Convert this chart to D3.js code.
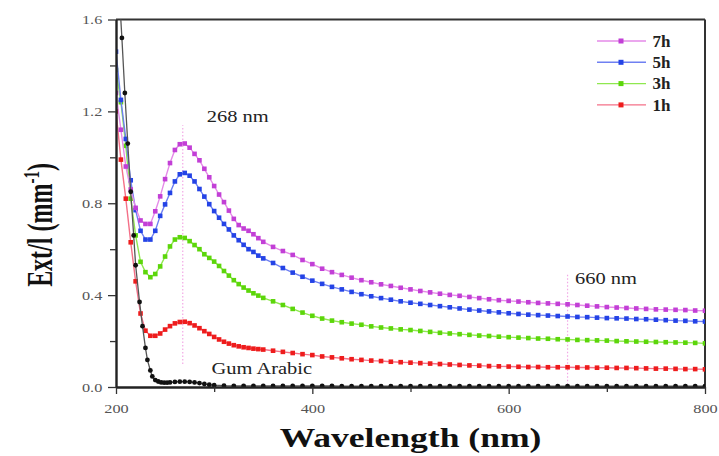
<!DOCTYPE html>
<html>
<head>
<meta charset="utf-8">
<script src="https://cdn.jsdelivr.net/npm/d3@7/dist/d3.min.js"></script>
<style>
  body { margin: 0; background: #fff; }
  text { font-family: "Liberation Serif", "Times New Roman", serif; }
</style>
</head>
<body>
<script>
// UV-vis extinction spectra
var width = 719, height = 456;

var wavelength = [200,205,210,215,220,225,230,235,240,245,250,255,260,265,270,275,280,285,290,295,300,
  305,310,315,320,325,330,335,340,345,350,
  360,370,380,390,400,410,420,430,440,450,460,470,480,490,500,510,520,530,540,550,
  560,570,580,590,600,610,620,630,640,650,660,670,680,690,700,710,720,730,740,750,
  760,770,780,790,800];

var ext7h = [1.28,1.12,0.96,0.86,0.78,0.725,0.71,0.71,0.765,0.83,0.905,0.975,1.032,1.057,1.06,1.042,1.015,0.987,0.95,0.913,0.875,
  0.838,0.805,0.768,0.732,0.705,0.69,0.68,0.665,0.648,0.632,
  0.61,0.592,0.575,0.553,0.535,0.515,0.5,0.488,0.476,0.465,0.456,0.447,0.44,0.432,0.425,0.418,0.412,0.406,0.401,0.397,
  0.392,0.387,0.382,0.378,0.375,0.372,0.369,0.366,0.364,0.362,0.36,0.357,0.354,0.351,0.348,0.346,0.344,0.342,0.34,0.338,
  0.337,0.336,0.335,0.333,0.332];

var ext5h = [1.46,1.25,1.08,0.9,0.77,0.68,0.642,0.642,0.68,0.745,0.795,0.845,0.895,0.926,0.932,0.92,0.895,0.862,0.829,0.796,0.766,
  0.737,0.71,0.686,0.66,0.639,0.619,0.6,0.588,0.572,0.56,
  0.54,0.518,0.498,0.48,0.463,0.449,0.436,0.425,0.414,0.404,0.395,0.387,0.38,0.373,0.367,0.362,0.357,0.352,0.347,0.342,
  0.337,0.333,0.329,0.325,0.321,0.318,0.315,0.313,0.311,0.309,0.307,0.305,0.304,0.302,0.3,0.299,0.298,0.296,0.295,0.293,
  0.291,0.289,0.288,0.286,0.285];

var ext3h = [1.38,1.24,1.05,0.82,0.66,0.545,0.5,0.478,0.492,0.525,0.568,0.612,0.642,0.652,0.649,0.635,0.618,0.6,0.578,0.562,0.546,
  0.527,0.505,0.485,0.465,0.448,0.433,0.42,0.408,0.398,0.388,
  0.373,0.357,0.34,0.324,0.31,0.298,0.289,0.282,0.276,0.271,0.264,0.259,0.255,0.251,0.248,0.244,0.24,0.236,0.233,0.23,
  0.227,0.224,0.222,0.219,0.217,0.215,0.213,0.211,0.21,0.208,0.207,0.205,0.204,0.203,0.202,0.2,0.199,0.198,0.197,0.196,
  0.195,0.194,0.193,0.192,0.19];

var ext1h = [1.2,0.99,0.82,0.63,0.46,0.32,0.245,0.223,0.223,0.233,0.25,0.265,0.277,0.283,0.284,0.278,0.268,0.256,0.243,0.231,0.218,
  0.207,0.197,0.189,0.182,0.177,0.173,0.17,0.167,0.165,0.163,
  0.158,0.153,0.148,0.143,0.139,0.133,0.129,0.125,0.121,0.118,0.115,0.113,0.11,0.108,0.106,0.104,0.102,0.1,0.098,0.096,
  0.094,0.093,0.091,0.09,0.089,0.088,0.087,0.087,0.086,0.086,0.086,0.085,0.085,0.084,0.084,0.083,0.083,0.082,0.081,0.08,
  0.08,0.079,0.078,0.078,0.077];

var gumWl = [203,206,209,212,215,218,220,224,227,230,232,235,237,240,243,246,249,252,255,260,265,270,275,280,285,290,295,300,
  310,320,330,340,350,360,370,380,390,400,410,420,430,440,450,460,470,480,490,500,510,520,530,540,550,
  560,570,580,590,600,610,620,630,640,650,660,670,680,690,700,710,720,730,740,750,760,770,780,790,800];
var gumArabic = [1.74,1.52,1.28,1.06,0.85,0.66,0.53,0.37,0.265,0.17,0.118,0.072,0.046,0.03,0.024,0.02,0.019,0.019,0.02,0.022,0.023,0.023,0.022,0.02,0.017,0.013,0.01,0.008,
  0.006,0.005,0.005,0.005,0.005,0.005,0.005,0.005,0.005,0.005,0.005,0.005,0.004,0.004,0.004,0.004,0.004,0.004,0.004,0.004,0.004,0.004,0.004,0.004,0.004,
  0.004,0.004,0.004,0.004,0.004,0.004,0.004,0.004,0.004,0.004,0.004,0.004,0.004,0.004,0.004,0.004,0.004,0.004,0.004,0.004,0.004,0.004,0.004,0.004,0.004];

var seriesNames = ["7h", "5h", "3h", "1h"];
var xMajor = [200, 400, 600, 800], xMinor = [300, 500, 700];
var yMajor = [0, 0.4, 0.8, 1.2, 1.6], yMinor = [0.2, 0.6, 1.0, 1.4];

var margin = {top: 19.5, left: 116, right: 14, bottom: 69};

var svg = d3.select("body").append("svg")
  .attr("width", width)
  .attr("height", height);

var x = d3.scaleLinear().domain([200, 800]).range([margin.left, width - margin.right]);
var y = d3.scaleLinear().domain([0, 1.6]).range([height - margin.bottom, margin.top]);

svg.append("clipPath").attr("id", "plot")
  .append("rect")
  .attr("x", x(200)).attr("y", y(1.6))
  .attr("width", x(800) - x(200)).attr("height", y(0) - y(1.6));

// guide lines at the peak and at 660 nm
var guides = [{wl: 268, lo: 0.1, hi: 1.14}, {wl: 660, lo: 0.01, hi: 0.495}];
svg.selectAll(".guide").data(guides).enter().append("line")
  .attr("x1", function(d) { return x(d.wl); })
  .attr("x2", function(d) { return x(d.wl); })
  .attr("y1", function(d) { return y(d.lo); })
  .attr("y2", function(d) { return y(d.hi); })
  .attr("stroke", "#f2a8e6")
  .attr("stroke-width", 1.2)
  .attr("stroke-dasharray", "1.5,2");

// frame top / right
svg.append("line").attr("x1", x(200)).attr("x2", x(800)).attr("y1", y(1.6)).attr("y2", y(1.6))
  .attr("stroke", "#333").attr("stroke-width", 1.8);
svg.append("line").attr("x1", x(800)).attr("x2", x(800)).attr("y1", y(1.6)).attr("y2", y(0))
  .attr("stroke", "#333").attr("stroke-width", 2);

var series = [
  {name: "1h", vals: ext1h, line: "#f47088", dot: "#ee1c1c"},
  {name: "3h", vals: ext3h, line: "#8fe84f", dot: "#5cd60a"},
  {name: "5h", vals: ext5h, line: "#6f80f2", dot: "#2443e6"},
  {name: "7h", vals: ext7h, line: "#e58ae8", dot: "#c23fd6"}
];

var line = d3.line()
  .x(function(d) { return x(d[0]); })
  .y(function(d) { return y(d[1]); });

var plot = svg.append("g").attr("clip-path", "url(#plot)");

series.forEach(function(s) {
  var pts = wavelength.map(function(w, i) { return [w, s.vals[i]]; });
  plot.append("path").datum(pts)
    .attr("fill", "none").attr("stroke", s.line).attr("stroke-width", 1.4)
    .attr("d", line);
  plot.selectAll(null).data(pts).enter().append("rect")
    .attr("x", function(d) { return x(d[0]) - 2.3; })
    .attr("y", function(d) { return y(d[1]) - 2.3; })
    .attr("width", 4.6).attr("height", 4.6)
    .attr("fill", s.dot);
});

var gumPts = gumWl.map(function(w, i) { return [w, gumArabic[i]]; });
plot.append("path").datum(gumPts)
  .attr("fill", "none").attr("stroke", "#555").attr("stroke-width", 1.3)
  .attr("d", line);
plot.selectAll(null).data(gumPts).enter().append("circle")
  .attr("cx", function(d) { return x(d[0]); })
  .attr("cy", function(d) { return y(d[1]); })
  .attr("r", 2.4)
  .attr("fill", "#111");

// axes
var xAxis = svg.append("g")
  .attr("transform", "translate(0," + y(0) + ")")
  .call(d3.axisBottom(x).tickValues(xMajor).tickSize(7).tickSizeOuter(0).tickPadding(10));
var yAxis = svg.append("g")
  .attr("transform", "translate(" + x(200) + ",0)")
  .call(d3.axisLeft(y).tickValues(yMajor).tickSize(8).tickSizeOuter(0).tickPadding(8).tickFormat(d3.format(".1f")));

svg.append("g").attr("transform", "translate(0," + y(0) + ")")
  .call(d3.axisBottom(x).tickValues(xMinor).tickSize(5).tickSizeOuter(0).tickFormat(""))
  .select(".domain").remove();
svg.append("g").attr("transform", "translate(" + x(200) + ",0)")
  .call(d3.axisLeft(y).tickValues(yMinor).tickSize(6).tickSizeOuter(0).tickFormat(""))
  .select(".domain").remove();

svg.selectAll(".domain").attr("stroke", "#222").attr("stroke-width", 2.4);
svg.selectAll(".tick line").attr("stroke", "#333").attr("stroke-width", 1.3);

xAxis.selectAll("text")
  .attr("font-family", "Liberation Serif").attr("font-size", 13).attr("fill", "#555")
  .attr("transform", "scale(1.25,1)");
yAxis.selectAll("text")
  .attr("font-family", "Liberation Serif").attr("font-size", 13).attr("fill", "#555")
  .attr("x", -11).attr("dy", "0.34em")
  .attr("transform", "scale(1.25,1)");

// axis titles
svg.append("text")
  .attr("transform", "translate(" + ((x(200) + x(800)) / 2) + ",447) scale(1.27,1)")
  .attr("text-anchor", "middle")
  .attr("font-size", 28).attr("font-weight", "bold").attr("fill", "#111")
  .text("Wavelength (nm)");

var yt = svg.append("text")
  .attr("transform", "translate(52,225) scale(1.5,1) rotate(-90)")
  .attr("text-anchor", "middle")
  .attr("font-size", 24).attr("font-weight", "bold").attr("fill", "#111");
yt.append("tspan").text("Ext/l (mm");
yt.append("tspan").attr("dy", -9).attr("font-size", 15).text("-1");
yt.append("tspan").attr("dy", 9).text(")");

// annotations
var notes = [
  {t: "268 nm", px: 206.7, py: 122},
  {t: "660 nm", px: 575, py: 284},
  {t: "Gum Arabic", px: 211.5, py: 374}
];
svg.selectAll(".note").data(notes).enter().append("text")
  .attr("transform", function(d) { return "translate(" + d.px + "," + d.py + ") scale(1.28,1)"; })
  .attr("font-size", 16).attr("fill", "#222")
  .text(function(d) { return d.t; });

// legend
var legend = svg.append("g").attr("transform", "translate(597,41)");
seriesNames.forEach(function(n, i) {
  var s = series.filter(function(d) { return d.name === n; })[0];
  var g = legend.append("g").attr("transform", "translate(0," + (i * 21.3) + ")");
  g.append("line").attr("x1", 0).attr("x2", 49).attr("y1", 0).attr("y2", 0)
    .attr("stroke", s.line).attr("stroke-width", 1.4);
  g.append("rect").attr("x", 21.5).attr("y", -2.5).attr("width", 5).attr("height", 5).attr("fill", s.dot);
  g.append("text").attr("x", 55.5).attr("y", 5.8)
    .attr("font-size", 17).attr("font-weight", "bold").attr("fill", "#222")
    .text(n);
});
</script>
</body>
</html>
